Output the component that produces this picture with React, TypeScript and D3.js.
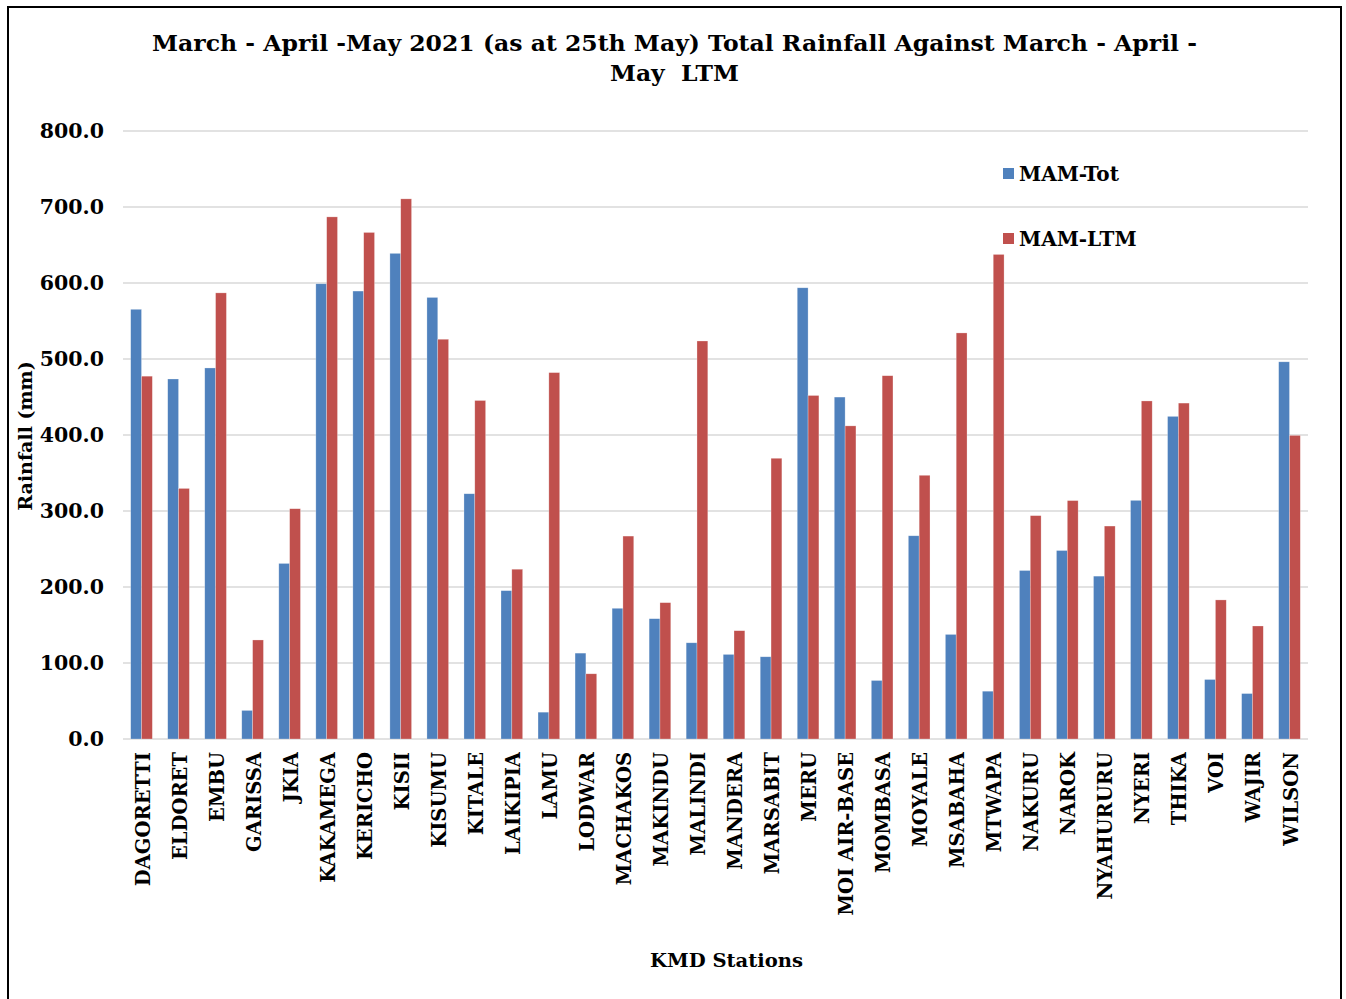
import React from "react";
import * as d3 from "d3";

const stations = [
  "DAGORETTI", "ELDORET", "EMBU", "GARISSA", "JKIA", "KAKAMEGA", "KERICHO", "KISII",
  "KISUMU", "KITALE", "LAIKIPIA", "LAMU", "LODWAR", "MACHAKOS", "MAKINDU", "MALINDI",
  "MANDERA", "MARSABIT", "MERU", "MOI AIR-BASE", "MOMBASA", "MOYALE", "MSABAHA", "MTWAPA",
  "NAKURU", "NAROK", "NYAHURURU", "NYERI", "THIKA", "VOI", "WAJIR", "WILSON",
];

const mamTot = [
  565.4, 473.7, 488.2, 37.6, 231.0, 599.0, 589.4, 639.0,
  581.0, 322.7, 195.2, 35.3, 113.0, 172.0, 158.3, 126.6,
  111.3, 108.2, 593.7, 449.9, 77.0, 267.4, 137.6, 62.9,
  221.7, 248.0, 214.3, 314.0, 424.5, 78.3, 59.8, 496.3,
];

const mamLtm = [
  477.4, 329.7, 587.0, 130.3, 303.0, 687.0, 666.5, 710.7,
  526.0, 445.4, 223.4, 482.1, 85.8, 267.0, 179.4, 523.7,
  142.5, 369.4, 452.0, 412.0, 478.0, 347.0, 534.3, 637.6,
  293.9, 313.7, 280.2, 444.8, 442.0, 183.0, 148.7, 399.5,
];

const seriesNames = ["MAM-Tot", "MAM-LTM"];
const seriesColors = ["#4F81BD", "#C0504D"];
const yTicks = [0, 100, 200, 300, 400, 500, 600, 700, 800];

const titleLine1 = "March - April -May 2021 (as at 25th May) Total Rainfall Against March - April -";
const titleLine2 = "May  LTM";
const yTitle = "Rainfall (mm)";
const xTitle = "KMD Stations";

const W = 1346;
const H = 999;
const plotLeft = 123;
const plotRight = 1308;
const plotTop = 131;
const plotBottom = 739;

const FONT = "'DejaVu Serif', serif";

export default function App() {
  const x = d3
    .scaleBand<string>()
    .domain(stations)
    .range([plotLeft, plotRight])
    .paddingInner(0.415)
    .paddingOuter(0.2075);
  const xs = d3.scaleBand<number>().domain([0, 1]).range([0, x.bandwidth()]);
  const y = d3.scaleLinear().domain([0, 800]).range([plotBottom, plotTop]);
  const series = [mamTot, mamLtm];

  return (
    <svg
      width={W}
      height={H}
      style={{ position: "absolute", left: 0, top: 0, background: "#fff" }}
      fontFamily={FONT}
    >
      <rect x={0} y={0} width={W} height={H} fill="#fff" />
      <rect x={8} y={7} width={1333} height={1010} fill="none" stroke="#000" strokeWidth={2} />

      {/* gridlines */}
      {yTicks.map((t) => (
        <line
          key={"g" + t}
          x1={plotLeft}
          x2={plotRight}
          y1={y(t)}
          y2={y(t)}
          stroke="#D9D9D9"
          strokeWidth={1.5}
        />
      ))}

      {/* y tick labels */}
      {yTicks.map((t) => (
        <text
          key={"yt" + t}
          x={104}
          y={y(t)}
          dy="0.36em"
          textAnchor="end"
          fontSize={20.5}
          fontWeight="bold"
          fill="#000"
        >
          {d3.format(".1f")(t)}
        </text>
      ))}

      {/* bars */}
      {series.map((vals, si) =>
        stations.map((s, i) => (
          <rect
            key={si + "-" + s}
            x={(x(s) as number) + (xs(si) as number)}
            y={y(vals[i])}
            width={xs.bandwidth()}
            height={y(0) - y(vals[i])}
            fill={seriesColors[si]}
            stroke="rgba(255,255,255,0.45)"
            strokeWidth={0.6}
          />
        ))
      )}

      {/* x labels */}
      {stations.map((s) => {
        const cx = (x(s) as number) + x.bandwidth() / 2;
        return (
          <text
            key={"xl" + s}
            transform={`translate(${cx + 1},752) rotate(-90)`}
            dy="0.36em"
            textAnchor="end"
            fontSize={19.5}
            fontWeight="bold"
            fill="#000"
          >
            {s}
          </text>
        );
      })}

      {/* title */}
      <text
        x={152}
        y={51}
        fontSize={23}
        fontWeight="bold"
        textLength={1045}
        lengthAdjust="spacingAndGlyphs"
        fill="#000"
      >
        {titleLine1}
      </text>
      <text
        x={610}
        y={81}
        fontSize={23}
        fontWeight="bold"
        textLength={129}
        lengthAdjust="spacingAndGlyphs"
        fill="#000"
        style={{ whiteSpace: "pre" }}
      >
        {titleLine2}
      </text>

      {/* y title */}
      <text
        transform="translate(25,436) rotate(-90)"
        dy="0.36em"
        textAnchor="middle"
        fontSize={19}
        fontWeight="bold"
        fill="#000"
      >
        {yTitle}
      </text>

      {/* x title */}
      <text
        x={650}
        y={967}
        fontSize={19}
        fontWeight="bold"
        textLength={153}
        lengthAdjust="spacingAndGlyphs"
        fill="#000"
      >
        {xTitle}
      </text>

      {/* legend */}
      {seriesNames.map((n, i) => (
        <g key={"lg" + n} transform={`translate(1003,${168 + i * 65})`}>
          <rect x={0} y={0} width={11} height={11} fill={seriesColors[i]} />
          <text x={16} y={13} fontSize={20} fontWeight="bold" fill="#000">
            {n}
          </text>
        </g>
      ))}
    </svg>
  );
}
